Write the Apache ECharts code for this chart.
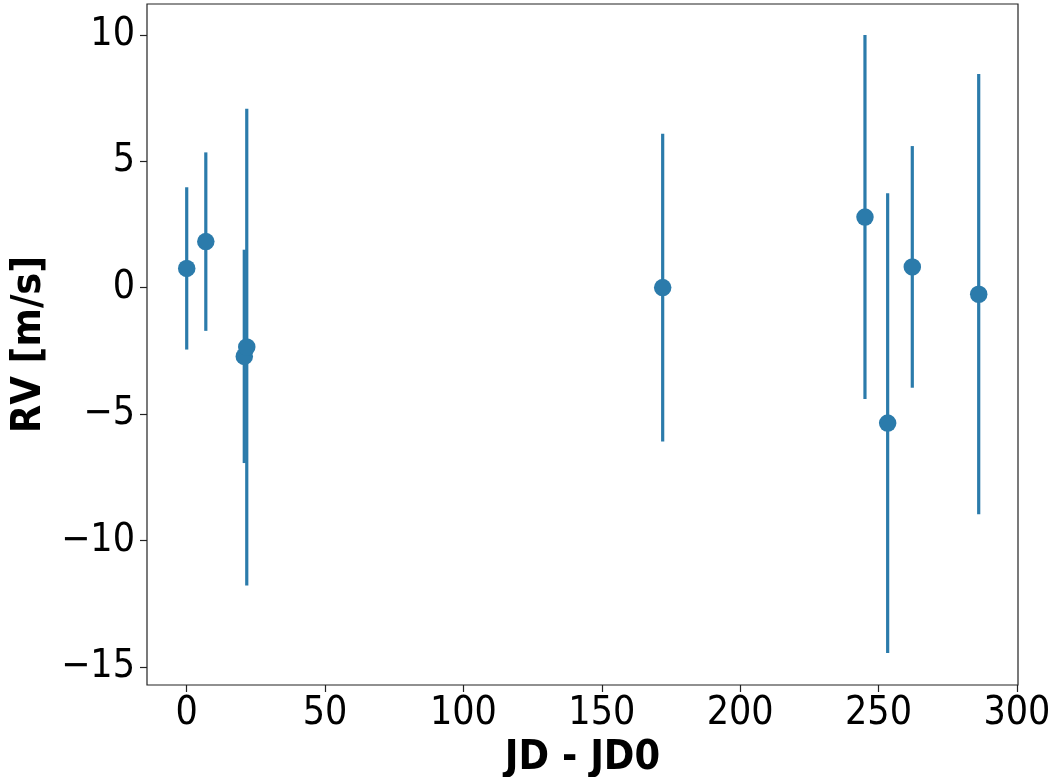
<!DOCTYPE html>
<html>
<head>
<meta charset="utf-8">
<script src="https://cdn.jsdelivr.net/npm/echarts@6/dist/echarts.min.js"></script>
<style>html,body{margin:0;padding:0;background:#fff;}#chart{width:1055px;height:777px;}</style>
</head>
<body>
<div id="chart"></div>
<script>
// Data
var jd   = [0, 6.9, 20.8, 21.7, 172.0, 245.1, 253.3, 262.2, 286.2];
var rv   = [0.76, 1.82, -2.72, -2.35, 0.0, 2.79, -5.36, 0.82, -0.26];
var rvErr= [3.21, 3.53, 4.22, 9.43, 6.09, 7.20, 9.09, 4.78, 8.71];
var xTicks = [0, 50, 100, 150, 200, 250, 300];
var yTicks = [-15, -10, -5, 0, 5, 10];

var color = '#2b7bab';
var pts = jd.map(function (x, i) { return [x, rv[i], rvErr[i]]; });
var font = "'DejaVu Sans Condensed', 'DejaVu Sans', sans-serif";

var chart = echarts.init(document.getElementById('chart'), null, {renderer: 'canvas'});
chart.setOption({
  animation: false,
  backgroundColor: '#fff',
  grid: {left: 147, top: 4, width: 871, height: 681, outerBoundsMode: 'none', containLabel: false,
         show: true, borderColor: '#222', borderWidth: 1.2, backgroundColor: 'transparent'},
  xAxis: {
    type: 'value', min: -14.35, max: 300.4,
    name: 'JD - JD0', nameLocation: 'middle', nameGap: 45,
    nameTextStyle: {fontFamily: font, fontWeight: 'bold', fontSize: 41, color: '#000'},
    axisLine: {show: false, onZero: false},
    splitLine: {show: false},
    axisTick: {show: true, length: 7, customValues: xTicks, lineStyle: {color: '#222', width: 1.2}},
    axisLabel: {customValues: xTicks, margin: 9, fontFamily: font, fontSize: 39, color: '#000'}
  },
  yAxis: {
    type: 'value', min: -15.72, max: 11.22,
    name: 'RV [m/s]', nameLocation: 'middle', nameGap: 96, nameRotate: 90,
    nameTextStyle: {fontFamily: font, fontWeight: 'bold', fontSize: 41, color: '#000'},
    axisLine: {show: false, onZero: false},
    splitLine: {show: false},
    axisTick: {show: true, length: 7, customValues: yTicks, lineStyle: {color: '#222', width: 1.2}},
    axisLabel: {customValues: yTicks, margin: 12, fontFamily: font, fontSize: 39, color: '#000',
      formatter: function (v) { return v < 0 ? '\u2212' + Math.abs(v) : String(v); }}
  },
  series: [
    {
      type: 'custom',
      data: pts,
      renderItem: function (params, api) {
        var x = api.value(0), y = api.value(1), e = api.value(2);
        var p1 = api.coord([x, y - e]);
        var p2 = api.coord([x, y + e]);
        return {
          type: 'line',
          shape: {x1: p1[0], y1: p1[1], x2: p2[0], y2: p2[1]},
          style: {stroke: color, lineWidth: 3.2}
        };
      },
      z: 2
    },
    {
      type: 'scatter',
      data: pts.map(function (p) { return [p[0], p[1]]; }),
      symbol: 'circle', symbolSize: 17.5,
      itemStyle: {color: color, opacity: 1},
      z: 3
    }
  ]
});
</script>
</body>
</html>
